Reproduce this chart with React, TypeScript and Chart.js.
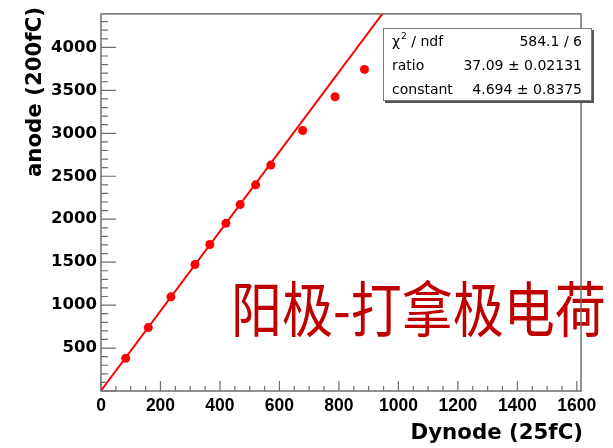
import { useEffect, useRef } from "react";
import { Chart, registerables } from "chart.js";

Chart.register(...registerables);

// Measured charge pairs: dynode in 25 fC units, anode in 200 fC units
const dynode = [83, 159, 235, 316, 366, 420, 468, 520, 571, 678, 787, 886];
const anode = [380, 738, 1096, 1472, 1706, 1952, 2170, 2400, 2630, 3033, 3425, 3744];

// Linear fit results (anode = ratio * dynode * 25/200 + constant)
const fitRatio = 37.09;
const fitRatioErr = 0.02131;
const fitConstant = 4.694;
const fitConstantErr = 0.8375;
const chi2 = 584.1;
const ndf = 6;
const unitScale = 25 / 200;

// Axis ranges and tick values
const xRange = [0, 1614];
const yRange = [0, 4390];
const xTickValues = [0, 200, 400, 600, 800, 1000, 1200, 1400, 1600];
const yTickValues = [500, 1000, 1500, 2000, 2500, 3000, 3500, 4000];
const xMinorStep = 50;
const yMinorStep = 100;

const xTitle = "Dynode (25fC)";
const yTitle = "anode (200fC)";
const banner = "阳极-打拿极电荷";

const RED = "#ff0000";
const FRAME = "#6e6e6e";

const fitValue = (x: number) => fitRatio * unitScale * x + fitConstant;

const overlayPlugin = {
  id: "rootStyleOverlay",
  afterDraw(chart: any) {
    const { ctx, chartArea } = chart;
    const xs = chart.scales.x;
    const ys = chart.scales.y;
    const { left, right, top, bottom } = chartArea;

    ctx.save();

    // Banner text
    ctx.save();
    ctx.fillStyle = "#c00000";
    ctx.font = '51px "Noto Sans CJK SC"';
    ctx.textBaseline = "alphabetic";
    ctx.textAlign = "left";
    ctx.translate(231, 332);
    ctx.scale(1, 1.18);
    ctx.fillText(banner, 0, 0);
    ctx.restore();

    // Frame
    ctx.strokeStyle = FRAME;
    ctx.lineWidth = 1.5;
    ctx.strokeRect(left, top, right - left, bottom - top);

    // Inward ticks on the bottom axis
    ctx.lineWidth = 1.2;
    ctx.beginPath();
    for (let v = xRange[0]; v <= xRange[1]; v += xMinorStep) {
      const px = xs.getPixelForValue(v);
      const len = v % 200 === 0 ? 10 : 5;
      ctx.moveTo(px, bottom);
      ctx.lineTo(px, bottom - len);
    }
    // Inward ticks on the left axis
    for (let v = yRange[0]; v <= yRange[1]; v += yMinorStep) {
      const py = ys.getPixelForValue(v);
      const len = v % 500 === 0 ? 15 : 7;
      ctx.moveTo(left, py);
      ctx.lineTo(left + len, py);
    }
    ctx.stroke();

    // Axis titles
    ctx.fillStyle = "#000";
    ctx.font = 'bold 21.3px "DejaVu Sans"';
    ctx.textAlign = "right";
    ctx.textBaseline = "middle";
    ctx.fillText(xTitle, 583, 433);

    ctx.save();
    ctx.translate(35, 7);
    ctx.rotate(-Math.PI / 2);
    ctx.font = 'bold 21.3px "DejaVu Sans"';
    ctx.textAlign = "right";
    ctx.textBaseline = "middle";
    ctx.fillText(yTitle, 0, 0);
    ctx.restore();

    // Fit statistics box
    const bx = 383, by = 28, bw = 209, bh = 73;
    ctx.fillStyle = "#555";
    ctx.fillRect(bx + 2, by + 2, bw, bh);
    ctx.fillStyle = "#fff";
    ctx.fillRect(bx, by, bw, bh);
    ctx.strokeStyle = "#777";
    ctx.lineWidth = 1;
    ctx.strokeRect(bx + 0.5, by + 0.5, bw - 1, bh - 1);

    ctx.fillStyle = "#000";
    ctx.textBaseline = "middle";
    const rowY = [42, 66, 90];
    const tx = 392;
    const rx = 582;
    ctx.font = '14px "DejaVu Sans"';
    ctx.textAlign = "left";
    ctx.fillText("χ", tx, rowY[0]);
    const chiW = ctx.measureText("χ").width;
    ctx.font = '9px "DejaVu Sans"';
    ctx.fillText("2", tx + chiW + 1, rowY[0] - 5);
    const twoW = ctx.measureText("2").width;
    ctx.font = '14px "DejaVu Sans"';
    ctx.fillText(" / ndf", tx + chiW + 1 + twoW, rowY[0]);
    ctx.fillText("ratio", tx, rowY[1]);
    ctx.fillText("constant", tx, rowY[2]);

    ctx.textAlign = "right";
    ctx.fillText(`${chi2.toFixed(1)} / ${ndf}`, rx, rowY[0]);
    ctx.fillText(`${fitRatio.toFixed(2)} ± ${fitRatioErr}`, rx, rowY[1]);
    ctx.fillText(`${fitConstant.toFixed(3)} ± ${fitConstantErr}`, rx, rowY[2]);

    ctx.restore();
  },
};

export default function App() {
  const canvasRef = useRef<HTMLCanvasElement | null>(null);

  useEffect(() => {
    const canvas = canvasRef.current;
    if (!canvas) return;

    const points = dynode.map((x, i) => ({ x, y: anode[i] }));
    const fitLine = [
      { x: xRange[0], y: fitValue(xRange[0]) },
      { x: xRange[1], y: fitValue(xRange[1]) },
    ];

    const chart = new Chart(canvas, {
      type: "scatter",
      data: {
        datasets: [
          {
            type: "line",
            label: "fit",
            data: fitLine,
            borderColor: RED,
            borderWidth: 2,
            pointRadius: 0,
            fill: false,
          },
          {
            label: "data",
            data: points,
            backgroundColor: RED,
            borderColor: RED,
            pointRadius: 4.5,
            pointBorderWidth: 0,
          },
        ],
      },
      options: {
        responsive: false,
        animation: false,
        devicePixelRatio: 1,
        layout: { padding: { top: 7, right: 32, left: 0, bottom: 0 } },
        plugins: {
          legend: { display: false },
          tooltip: { enabled: false },
        },
        scales: {
          x: {
            type: "linear",
            min: xRange[0],
            max: xRange[1],
            grid: { display: false, drawTicks: false },
            border: { display: false },
            afterBuildTicks: (scale: any) => {
              scale.ticks = xTickValues.map((value) => ({ value }));
            },
            afterFit: (scale: any) => {
              scale.height = 57;
            },
            ticks: {
              padding: 5,
              maxRotation: 0,
              autoSkip: false,
              color: "#000",
              font: { family: "Liberation Sans", size: 17.5, weight: "bold" },
              callback: (v: any) => String(v),
            },
          },
          y: {
            type: "linear",
            min: yRange[0],
            max: yRange[1],
            grid: { display: false, drawTicks: false },
            border: { display: false },
            afterBuildTicks: (scale: any) => {
              scale.ticks = yTickValues.map((value) => ({ value }));
            },
            afterFit: (scale: any) => {
              scale.width = 101;
            },
            ticks: {
              padding: 4,
              autoSkip: false,
              color: "#000",
              font: { family: "DejaVu Sans", size: 16.5, weight: "bold" },
              callback: (v: any) => String(v),
            },
          },
        },
      },
      plugins: [overlayPlugin],
    });

    return () => chart.destroy();
  }, []);

  return (
    <div style={{ position: "absolute", left: 0, top: 0, width: 613, height: 448, background: "#fff" }}>
      <canvas ref={canvasRef} width={613} height={448} />
    </div>
  );
}
